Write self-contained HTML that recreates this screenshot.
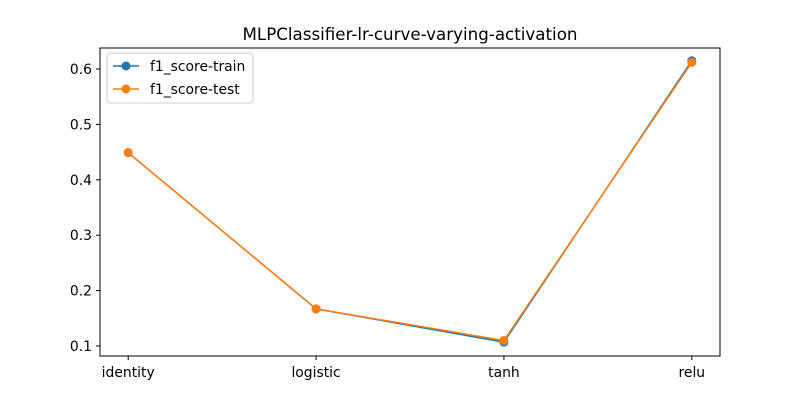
<!DOCTYPE html>
<html><head><meta charset="utf-8"><style>body{margin:0;background:#fff}svg{display:block;font-family:"DejaVu Sans","Liberation Sans",sans-serif}</style></head>
<body>
<svg id="chart" width="800" height="400">
<rect width="800" height="400" fill="#fff"/>
<text x="410" y="40" text-anchor="middle" font-size="16.7">MLPClassifier-lr-curve-varying-activation</text>
<g id="axes"></g>
<g id="series"></g>
<g id="legend">
<rect x="107" y="53" width="146" height="50" rx="3" fill="#fff" stroke="#ccc"/>
<line x1="113" y1="66" x2="139" y2="66" stroke="#1f77b4" stroke-width="1.5"/>
<circle cx="126" cy="66" r="4.5" fill="#1f77b4"/>
<text x="150" y="71" font-size="13.9">f1_score-train</text>
<line x1="113" y1="89" x2="139" y2="89" stroke="#ff7f0e" stroke-width="1.5"/>
<circle cx="126" cy="89" r="4.5" fill="#ff7f0e"/>
<text x="150" y="94" font-size="13.9">f1_score-test</text>
</g>
</svg>
<script>
const categories=["identity","logistic","tanh","relu"];
const trainValues=[0.449,0.167,0.107,0.615];
const testValues=[0.449,0.167,0.110,0.612];
const yTicks=[0.1,0.2,0.3,0.4,0.5,0.6];
const NS="http://www.w3.org/2000/svg";
const L=100,R=720,T=48,B=356;
const xs=i=>L+(i+0.15)/3.3*(R-L);
const ys=v=>346-(v-0.1)*554;
function mk(tag,attrs,parent){const e=document.createElementNS(NS,tag);for(const k in attrs)e.setAttribute(k,attrs[k]);parent.appendChild(e);return e;}
const ax=document.getElementById('axes');
const frame=mk('rect',{x:L,y:T,width:R-L,height:B-T,fill:'none',stroke:'#000','stroke-width':1},ax);


yTicks.forEach(v=>{const y=ys(v);mk('line',{x1:L-4,x2:L,y1:y,y2:y,stroke:'#000'},ax);
const t=mk('text',{x:L-8,y:y+5,'text-anchor':'end','font-size':13.9},ax);t.textContent=v.toFixed(1);

});
categories.forEach((c,i)=>{const x=xs(i);mk('line',{x1:x,x2:x,y1:B,y2:B+4,stroke:'#000'},ax);
const t=mk('text',{x:x,y:B+21,'text-anchor':'middle','font-size':13.9},ax);t.textContent=c;

});
const sg=document.getElementById('series');
[[trainValues,'#1f77b4','train'],[testValues,'#ff7f0e','test']].forEach(([vals,col,n])=>{
const p=mk('polyline',{points:vals.map((v,i)=>xs(i)+','+ys(v)).join(' '),fill:'none',stroke:col,'stroke-width':1.5},sg);


vals.forEach((v,i)=>{const c=mk('circle',{cx:xs(i),cy:ys(v),r:4.5,fill:col},sg);

});});
</script>
</body></html>
